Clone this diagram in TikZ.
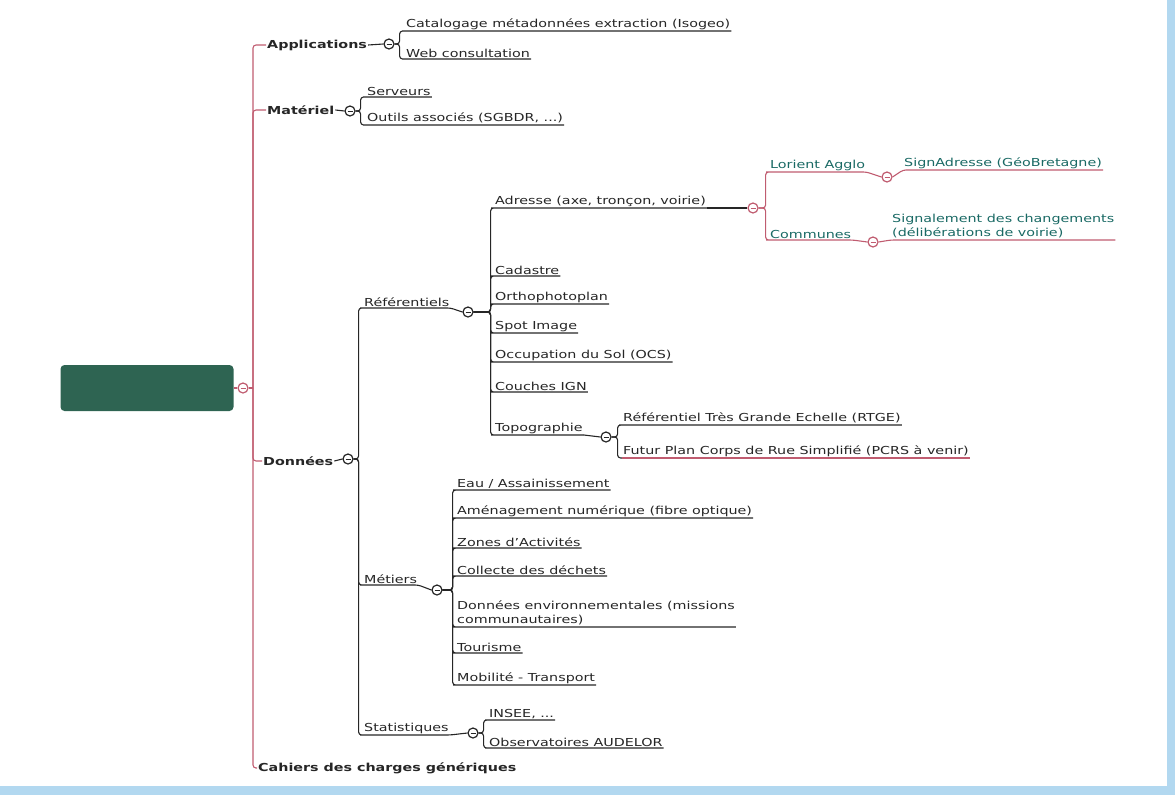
\documentclass[tikz,border=0pt]{standalone}
\usepackage{fontspec}
\setmainfont{DejaVu Sans}[FakeStretch=1.3]
\definecolor{rose}{RGB}{192,92,112}
\definecolor{ink}{RGB}{38,38,38}
\definecolor{tealtext}{RGB}{25,105,100}
\definecolor{rootgreen}{RGB}{46,100,82}
\definecolor{edgeblue}{RGB}{178,216,240}

\begin{document}
\begin{tikzpicture}[x=1pt, y=-1pt,
  lbl/.style={anchor=south west, inner xsep=1pt, inner ysep=1.5pt, text=ink, align=left, font=\fontsize{11}{14}\selectfont},
  top/.style={anchor=west, inner sep=1pt, text=ink, font=\fontsize{11}{14}\selectfont\bfseries},
  knob/.style={circle, draw=#1, line width=1.2pt, minimum size=10pt, inner sep=0pt, fill=white,
    path picture={\draw[#1, line width=1pt] ([xshift=-2.5pt]path picture bounding box.center) -- ([xshift=2.5pt]path picture bounding box.center);}},
  knob/.default=ink,
  link/.style={draw=ink, line width=1.1pt, rounded corners=3pt},
  rlink/.style={link, draw=rose},
  root/.style={fill=rootgreen, rounded corners=4pt, minimum width=173pt, minimum height=46pt, inner sep=0pt}]
\useasboundingbox (0,0) rectangle (1175,809);

% frame edges
\fill[edgeblue] (0,786) rectangle (1175,795);
\fill[edgeblue] (1167,0) rectangle (1175,795);

% root and spine
\node[root] (root) at (147,388) {};
\node[knob=rose] (kRoot) at (243,388) {};
\coordinate (hub) at (253,388);
\draw[rlink] (root.east) -- (kRoot.west);
\draw[rlink] (kRoot.east) -- (hub);

\node[top] (app) at (266,45) {Applications};
\node[top] (mat) at (266,110) {Matériel};
\node[top] (don) at (262,461) {Données};
\node[top] (cah) at (257,768) {Cahiers des charges génériques};
\draw[rlink] (hub) |- (app.west);
\draw[rlink] (hub) |- (mat.west);
\draw[rlink] (hub) |- (don.west);
\draw[rlink] (hub) |- (cah.west);

% Applications
\node[knob] (kApp) at (389,44) {};
\node[lbl] (cat) at (405,31) {Catalogage métadonnées extraction (Isogeo)};
\node[lbl] (web) at (405,59) {Web consultation};
\draw[link] (app.east) -- (kApp.west);
\foreach \c in {cat,web}
  \draw[link] (kApp.east) -- ++(5,0) |- (\c.south west) -- (\c.south east);

% Materiel
\node[knob] (kMat) at (350,111) {};
\node[lbl] (srv) at (366,97) {Serveurs};
\node[lbl] (outil) at (366,125) {Outils associés (SGBDR, ...)};
\draw[link] (mat.east) -- (kMat.west);
\foreach \c in {srv,outil}
  \draw[link] (kMat.east) -- ++(5,0) |- (\c.south west) -- (\c.south east);

% Donnees
\node[knob] (kDon) at (348,459) {};
\draw[link] (don.east) -- (kDon.west);
\node[lbl] (ref) at (363,308) {Référentiels};
\node[knob] (kRef) at (468,312) {};
\node[lbl] (met) at (363,585) {Métiers};
\node[knob] (kMet) at (437,590) {};
\node[lbl] (sta) at (363,735) {Statistiques};
\node[knob] (kSta) at (473,733) {};
\draw[link] (kDon.east) -- ++(5,0) |- (ref.south west) -- (ref.south east) -- (kRef.west);
\draw[link] (kDon.east) -- ++(5,0) |- (met.south west) -- (met.south east) -- (kMet.west);
\draw[link] (kDon.east) -- ++(5,0) |- (sta.south west) -- (sta.south east) -- (kSta.west);

% Referentiels
\node[lbl] (adr) at (494,208) {Adresse (axe, tronçon, voirie)};
\node[knob=rose] (kAdr) at (753,208) {};
\node[lbl] (cad) at (494,276) {Cadastre};
\node[lbl] (ortho) at (494,304) {Orthophotoplan};
\node[lbl] (spot) at (494,333) {Spot Image};
\node[lbl] (ocs) at (494,362) {Occupation du Sol (OCS)};
\node[lbl] (ign) at (494,392) {Couches IGN};
\node[lbl] (topo) at (494,435) {Topographie};
\node[knob] (kTopo) at (606,437) {};
\foreach \c in {adr,cad,ortho,spot,ocs,ign,topo}
  \draw[link] (kRef.east) -- ++(17,0) |- (\c.south west) -- (\c.south east);
\draw[link] (adr.south east) -- (kAdr.west);
\draw[link] (topo.south east) -- (kTopo.west);

% Adresse
\node[lbl, text=tealtext] (lor) at (769,172) {Lorient Agglo};
\node[knob=rose] (kLor) at (887,177) {};
\node[lbl, text=tealtext] (com) at (769,240) {Communes};
\node[knob=rose] (kCom) at (873,242) {};
\node[lbl, text=tealtext] (sig) at (903,170) {SignAdresse (GéoBretagne)};
\node[lbl, text=tealtext] (chg) at (891,240) {Signalement des changements\\(délibérations de voirie)};
\foreach \c/\k in {lor/kLor,com/kCom}
  \draw[rlink] (kAdr.east) -- ++(7,0) |- (\c.south west) -- (\c.south east) -- (\k.west);
\draw[rlink] (kLor.east) -- (sig.south west) -- (sig.south east);
\draw[rlink] (kCom.east) -- (chg.south west) -- (chg.south east);

% Topographie
\node[lbl] (rtge) at (622,425) {Référentiel Très Grande Echelle (RTGE)};
\node[lbl] (pcrs) at (622,458) {Futur Plan Corps de Rue Simplifié (PCRS à venir)};
\draw[link] (kTopo.east) -- ++(6,0) |- (rtge.south west) -- (rtge.south east);
\draw[link] (kTopo.east) -- ++(6,0) |- (pcrs.south west);
\draw[rlink] (pcrs.south west) -- (pcrs.south east);

% Metiers
\node[lbl] (eau) at (456,490) {Eau / Assainissement};
\node[lbl] (amen) at (456,518) {Aménagement numérique (fibre optique)};
\node[lbl] (zae) at (456,548) {Zones d'Activités};
\node[lbl] (dech) at (456,576) {Collecte des déchets};
\node[lbl] (env) at (456,627) {Données environnementales (missions\\communautaires)};
\node[lbl] (tour) at (456,653) {Tourisme};
\node[lbl] (mob) at (456,685) {Mobilité - Transport};
\foreach \c in {eau,amen,zae,dech,env,tour,mob}
  \draw[link] (kMet.east) -- ++(10,0) |- (\c.south west) -- (\c.south east);

% Statistiques
\node[lbl] (insee) at (488,720) {INSEE, ...};
\node[lbl] (obs) at (488,748) {Observatoires AUDELOR};
\foreach \c in {insee,obs}
  \draw[link] (kSta.east) -- ++(5,0) |- (\c.south west) -- (\c.south east);

\end{tikzpicture}
\end{document}
